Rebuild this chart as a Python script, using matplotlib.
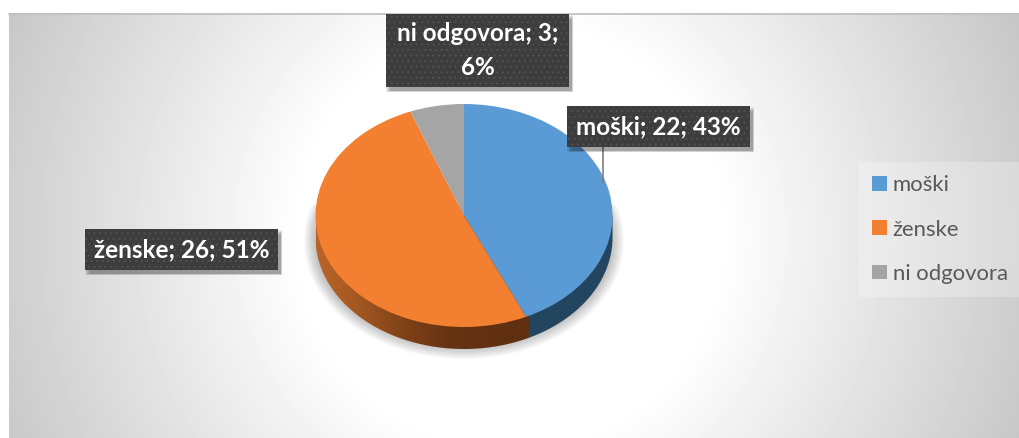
import matplotlib
matplotlib.use('Agg')
import matplotlib.pyplot as plt
import numpy as np
from matplotlib.patches import Rectangle, Ellipse, PathPatch
from matplotlib.path import Path
from matplotlib.colors import LinearSegmentedColormap

categories = ['moški', 'ženske', 'ni odgovora']
values = [22, 26, 3]
percents = [43, 51, 6]
colors = ['#5b9bd5', '#f37f30', '#a5a5a5']

W, H = 1019, 438
plt.rcParams['font.family'] = ['Lato', 'DejaVu Sans']
plt.rcParams['hatch.linewidth'] = 0.5

fig = plt.figure(figsize=(W / 100, H / 100), dpi=100, facecolor='white')

# background, pixel coordinates
bg = fig.add_axes([0, 0, 1, 1])
bg.set_xlim(0, W)
bg.set_ylim(H, 0)
bg.axis('off')

xx, yy = np.meshgrid(np.arange(9, W), np.arange(13, H))
dist = np.hypot(xx - 510, yy - 235)
shade = 255 - np.clip(dist - 210, 0, None) * 0.165
bg.imshow(shade, cmap='gray', vmin=0, vmax=255, extent=(9, W, H, 13), aspect='auto', zorder=0)
bg.plot([9, W], [13.5, 13.5], color='#bfbfbf', lw=1.2, zorder=1)
bg.set_xlim(0, W)
bg.set_ylim(H, 0)

# soft shadow under the pie
clip = Rectangle((290, 205), 350, 155, transform=bg.transData)
for k in range(14):
    e = Ellipse((464, 241), 2 * (160 - k * 1.5), 2 * (118 - k * 1.5), color='black', alpha=0.03, lw=0, zorder=2)
    bg.add_patch(e)
    e.set_clip_path(clip)

# pie axes: one data unit = pie radius in each direction
cx, cy, rx, ry = 464, 215.5, 148.5, 111.5
span = 1.5
ax = fig.add_axes([(cx - rx * span) / W, 1 - (cy + ry * span) / H, 2 * rx * span / W, 2 * ry * span / H])
ax.patch.set_alpha(0)
depth = 22 / ry

cmap = LinearSegmentedColormap.from_list('side', [
    (0.0, '#b9632a'), (0.12, '#a65a22'), (0.3, '#7f4118'), (0.45, '#663313'),
    (0.72, '#5f2f10'), (0.721, '#234560'), (1.0, '#234560')])
t = np.radians(np.linspace(180, 360, 200))
hull = np.vstack([[-1, 0], np.c_[np.cos(t), np.sin(t) - depth], [1, 0], [-1, 0]])
img = ax.imshow(np.linspace(0, 1, 400)[None, :], cmap=cmap, extent=(-1, 1, -1.5, 0.5), aspect='auto', zorder=1)
img.set_clip_path(PathPatch(Path(hull), transform=ax.transData))

wedges, _ = ax.pie(values, colors=colors, startangle=90, counterclock=False, radius=1,
                   wedgeprops=dict(lw=0, zorder=3))
for w in wedges:
    w.set_zorder(3)
ax.set_aspect('auto')
ax.set_xlim(-span, span)
ax.set_ylim(-span, span)
ax.axis('off')

# data labels on top
top = fig.add_axes([0, 0, 1, 1])
top.set_xlim(0, W)
top.set_ylim(H, 0)
top.axis('off')
top.patch.set_alpha(0)

label_boxes = [(567, 106, 183, 41), (85, 229, 193, 41), (386, 14, 183, 73)]
label_texts = ['%s; %d; %d%%' % (c, v, p) for c, v, p in zip(categories, values, percents)]
label_texts[2] = 'ni odgovora; 3;\n6%'

top.plot([603, 603], [147, 182], color='#7f7f7f', lw=1.2, zorder=2)
for (x, y, w, h), s in zip(label_boxes, label_texts):
    for k in range(7):
        top.add_patch(Rectangle((x + k * 0.8, y + 1 + k * 0.8), w + 4 - k * 1.0, h + 4 - k * 1.0, color='black',
                                alpha=0.06, lw=0, zorder=3))
    top.add_patch(Rectangle((x, y), w, h, facecolor='#3d3d3d', edgecolor='#565656', hatch='...', lw=0, zorder=4))
    top.text(x + w / 2, y + h / 2, s, color='white', fontweight='bold', fontsize=17.5, ha='center',
             va='center', linespacing=1.55, zorder=5)

leg = ax.legend(wedges, categories, loc='upper left', bbox_to_anchor=(859 / W, 1 - 162 / H),
                bbox_transform=fig.transFigure, frameon=True, fontsize=15.9, labelcolor='#595959',
                handlelength=0.65, handleheight=0.65, handletextpad=0.27, labelspacing=1.1, borderaxespad=0,
                borderpad=0.6, fancybox=False, edgecolor='none', facecolor='white', framealpha=0.25)

fig.savefig('out.png', dpi=100)
